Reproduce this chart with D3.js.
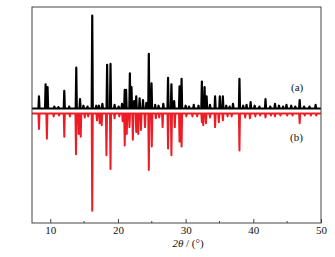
<!DOCTYPE html>
<html>
<head>
<meta charset="utf-8">
<script src="https://cdn.jsdelivr.net/npm/d3@7"></script>
<style>
  body { margin: 0; background: #fff; }
  svg { display: block; }
  svg text { font-family: "Liberation Serif", "Times New Roman", Times, serif !important; }
</style>
</head>
<body>
<svg id="xrd"></svg>
<script>
// peak positions (2theta) and relative intensities
var peaksA = [
  [8.33, 13], [9.31, 26], [9.6, 23], [10.6, 2], [11.2, 1.5], [12.07, 19], [12.8, 2],
  [13.84, 44], [14.4, 10], [14.9, 3], [15.5, 2], [16.2, 100], [16.8, 3], [17.2, 3], [17.7, 5],
  [18.4, 47], [18.9, 48], [19.5, 4], [20.1, 2], [20.6, 5], [21.0, 20], [21.2, 20],
  [21.76, 38], [22.0, 23], [22.4, 8], [22.7, 13], [23.2, 11], [23.7, 9], [24.2, 6],
  [24.56, 59], [24.96, 27], [25.5, 4], [26.0, 3], [26.7, 5], [27.4, 33], [27.9, 26],
  [28.3, 8], [29.1, 24], [29.4, 32], [30.0, 3], [30.5, 2], [31.2, 4], [31.9, 3],
  [32.4, 29], [32.8, 23], [33.1, 13], [33.6, 4], [34.35, 13], [35.05, 13], [35.5, 13],
  [36.0, 3], [36.5, 2], [37.0, 5], [37.95, 32], [38.5, 3], [39.0, 4], [39.6, 7],
  [40.2, 3], [40.9, 2], [41.8, 10], [42.5, 2], [43.2, 5], [43.8, 3], [44.4, 2],
  [44.9, 4], [45.6, 3], [46.2, 2], [46.85, 9], [47.5, 2], [48.3, 2], [49.2, 4]
];

var peaksB = [
  [8.33, 16], [9.5, 26], [10.5, 3], [11.3, 2], [12.07, 24], [12.9, 3], [13.8, 42],
  [14.2, 21], [14.5, 24], [15.1, 4], [15.6, 3], [16.2, 100], [16.9, 7], [17.3, 10],
  [17.6, 12], [18.3, 43], [18.9, 57], [19.5, 5], [20.2, 3], [20.7, 8], [21.0, 33],
  [21.3, 21], [21.7, 14], [22.2, 27], [22.7, 19], [23.0, 21], [23.4, 17], [24.0, 14],
  [24.56, 58], [25.0, 34], [25.6, 5], [26.1, 4], [26.6, 14], [27.4, 36], [27.9, 43],
  [28.4, 14], [29.1, 29], [29.4, 34], [30.1, 3], [31.0, 3], [31.7, 3], [32.4, 9],
  [32.6, 12], [33.0, 10], [33.6, 4], [34.35, 14], [34.9, 9], [35.5, 7], [36.2, 3],
  [36.8, 3], [37.95, 38], [38.8, 4], [39.5, 5], [40.3, 3], [41.0, 2], [41.8, 4],
  [42.6, 2], [43.2, 3], [44.0, 2], [45.0, 2], [45.8, 2], [46.85, 10], [47.6, 2],
  [48.5, 2], [49.3, 2]
];

var xTicks = [10, 20, 30, 40, 50];
var xMinor = [15, 25, 35, 45];
var xDomain = [7.3, 50];

var W = 335, H = 257;
var plotLeft = 32, plotRight = 321, plotTop = 7, plotBottom = 223;
var serif = "'Liberation Serif', 'Times New Roman', serif";

var svg = d3.select("#xrd").attr("width", W).attr("height", H);

var x = d3.scaleLinear().domain(xDomain).range([plotLeft, plotRight]);
var yA = d3.scaleLinear().domain([0, 100]).range([108.5, 15.7]);
var yB = d3.scaleLinear().domain([0, 100]).range([113.5, 210.7]);

// each peak drawn as a narrow spike on a flat baseline
function spikes(peaks) {
  var w = 0.08;
  var pts = [[xDomain[0], 0]];
  peaks.forEach(function (p) {
    pts.push([p[0] - w, 0], [p[0], p[1]], [p[0] + w, 0]);
  });
  pts.push([xDomain[1], 0]);
  return pts;
}

var lineA = d3.line().x(function (d) { return x(d[0]); }).y(function (d) { return yA(d[1]); });
var lineB = d3.line().x(function (d) { return x(d[0]); }).y(function (d) { return yB(d[1]); });

svg.append("defs").append("clipPath").attr("id", "plotclip")
  .append("rect")
  .attr("x", plotLeft).attr("y", plotTop)
  .attr("width", plotRight - plotLeft).attr("height", plotBottom - plotTop);

var g = svg.append("g").attr("clip-path", "url(#plotclip)");

g.append("path")
  .attr("d", lineB(spikes(peaksB)))
  .attr("fill", "none")
  .attr("stroke", "#ee1c24")
  .attr("stroke-width", 2)
  .attr("stroke-linejoin", "round");

g.append("path")
  .attr("d", lineA(spikes(peaksA)))
  .attr("fill", "none")
  .attr("stroke", "#000")
  .attr("stroke-width", 2.2)
  .attr("stroke-linejoin", "round");

// frame
svg.append("rect")
  .attr("x", plotLeft).attr("y", plotTop)
  .attr("width", plotRight - plotLeft).attr("height", plotBottom - plotTop)
  .attr("fill", "none")
  .attr("stroke", "#444")
  .attr("stroke-width", 1);

// bottom axis, ticks pointing inward
var xAxis = d3.axisBottom(x).tickValues(xTicks).tickSizeInner(-4).tickSizeOuter(0).tickPadding(3);
var ax = svg.append("g").attr("transform", "translate(0," + plotBottom + ")").call(xAxis);
ax.attr("font-family", serif).attr("font-size", 11);
ax.select(".domain").remove();
ax.selectAll("line").attr("stroke", "#444");
ax.selectAll("text").attr("fill", "#111");

svg.append("g").selectAll("line").data(xMinor).enter().append("line")
  .attr("x1", function (d) { return x(d); })
  .attr("x2", function (d) { return x(d); })
  .attr("y1", plotBottom)
  .attr("y2", plotBottom - 2)
  .attr("stroke", "#444");

var title = svg.append("text")
  .attr("x", 188).attr("y", 247)
  .attr("text-anchor", "middle")
  .attr("font-family", serif)
  .attr("font-size", 11)
  .attr("fill", "#111");
title.append("tspan").attr("font-style", "italic").text("2θ");
title.append("tspan").text(" / (°)");

svg.append("text").attr("x", 291).attr("y", 91)
  .attr("font-family", serif).attr("font-size", 11).attr("fill", "#111")
  .text("(a)");
svg.append("text").attr("x", 290).attr("y", 141)
  .attr("font-family", serif).attr("font-size", 11).attr("fill", "#111")
  .text("(b)");
</script>
</body>
</html>
